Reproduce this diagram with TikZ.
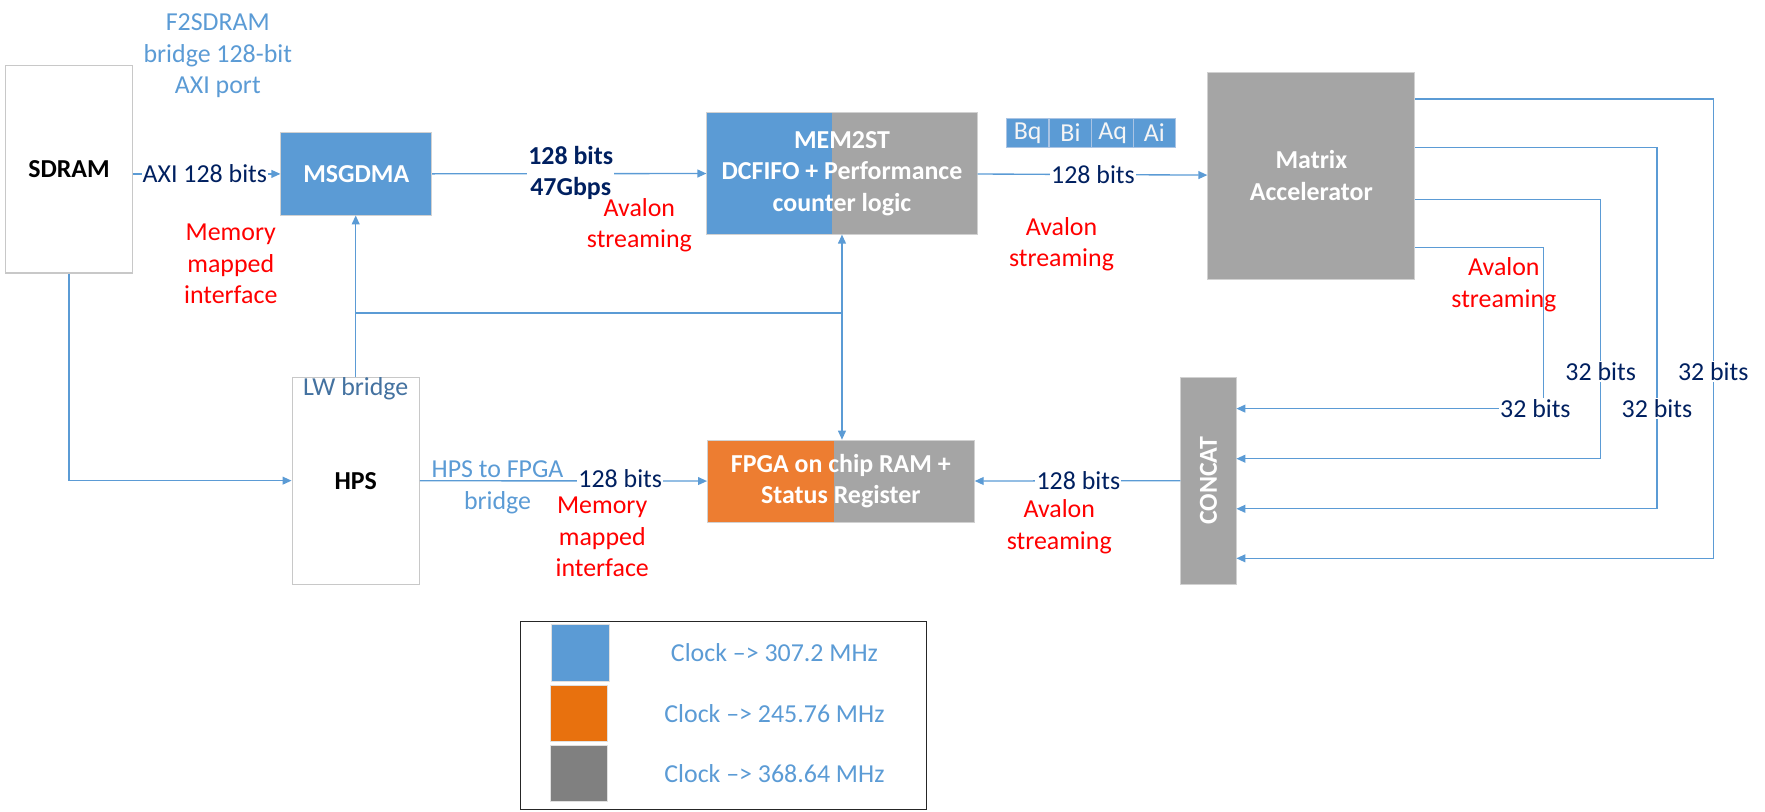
\documentclass[tikz,border=0pt]{standalone}
\usepackage{fontspec}
\setmainfont{Carlito}
\usetikzlibrary{arrows.meta}
\definecolor{cBlue}{RGB}{91,155,213}
\definecolor{cGray}{RGB}{165,165,165}
\definecolor{cOrange}{RGB}{237,125,49}
\definecolor{cNavy}{RGB}{0,32,96}
\definecolor{cRed}{RGB}{255,0,0}
\definecolor{cSteel}{RGB}{68,114,160}
\definecolor{cLegOrange}{RGB}{232,113,14}
\definecolor{cLegGray}{RGB}{128,128,128}
\definecolor{cLine}{RGB}{91,155,213}
\definecolor{cBorder}{RGB}{200,200,200}
\definecolor{cCellBorder}{RGB}{170,196,228}
\definecolor{cCellText}{RGB}{245,245,245}
\begin{document}
\begin{tikzpicture}[x=1pt,y=-1pt,
  every node/.style={font=\fontsize{23}{28}\selectfont, inner sep=0pt, align=center},
  conn/.style={draw=cLine, line width=1.2pt},
  arr/.style={conn, -{Triangle[length=8pt,width=7pt]}},
  plainbox/.style={draw=cBorder, line width=1pt, fill=white, minimum width=113pt, minimum height=184pt},
  colbox/.style={draw=black!18, line width=0.8pt, text=white, font=\fontsize{23}{28}\selectfont\bfseries},
  twotone/.style n args={3}{colbox, path picture={
     \fill[#1] (path picture bounding box.north west) rectangle ([xshift=#3]path picture bounding box.south west);
     \fill[#2] ([xshift=#3]path picture bounding box.north west) rectangle (path picture bounding box.south east);}},
  bitslbl/.style={text=cNavy, fill=white, inner sep=1pt},
  redlbl/.style={text=cRed},
  bluelbl/.style={text=cBlue},
  cell/.style={fill=cBlue, draw=cCellBorder, line width=0.8pt, text=cCellText, minimum width=37.5pt, minimum height=26pt},
  swatch/.style={minimum width=51pt, minimum height=50pt, draw=black!12, line width=0.8pt},
]
\useasboundingbox (0,0) rectangle (1568,720.5);

% ---- boxes ----
\node[plainbox] (sdram) at (61.3,150.5) {\bfseries SDRAM};
\node[colbox, fill=cBlue, minimum width=134pt, minimum height=73pt] (msgdma) at (316.5,154.5) {MSGDMA};
\node[twotone={cBlue}{cGray}{111.5pt}, minimum width=240pt, minimum height=108pt] (mem2st) at (748,154) {MEM2ST\\DCFIFO + Performance\\counter logic};
\node[cell] (bq) at (913,118) {Bq};
\node[cell] (bi) at (951,118) {Bi};
\node[cell] (aq) at (988.5,118) {Aq};
\node[cell] (ai) at (1025.5,118) {Ai};
\node[colbox, fill=cGray, minimum width=184pt, minimum height=184pt] (matrix) at (1165,156) {Matrix\\Accelerator};
\node[colbox, fill=cGray, minimum width=49pt, minimum height=184pt] (concat) at (1073.5,427) {\rotatebox{90}{CONCAT}};
\node[plainbox] (hps) at (316,427) {\bfseries HPS};
\node[twotone={cOrange}{cGray}{112.5pt}, minimum width=237pt, minimum height=73pt] (fpga) at (747,427.5) {FPGA on chip RAM +\\Status Register};

% ---- coordinates ----
\coordinate (v1) at (1522,88);
\coordinate (v2) at (1472,131);
\coordinate (v3) at (1422,177);
\coordinate (v4) at (1371,220);
\coordinate (in1) at (1371,363);
\coordinate (in2) at (1422,407.5);
\coordinate (in3) at (1472,452);
\coordinate (in4) at (1522,496);
\coordinate (j1) at (316,278);
\coordinate (j2) at (748,278);

% ---- connectors ----
\draw[arr] (sdram.east |- msgdma.west) -- (msgdma.west);
\draw[arr] (msgdma) -- (mem2st);
\draw[arr] (mem2st) -- (matrix);
\draw[arr] (matrix.east |- v4) -- (v4) -- (in1) -- (concat.east |- in1);
\draw[arr] (matrix.east |- v3) -- (v3) -- (in2) -- (concat.east |- in2);
\draw[arr] (matrix.east |- v2) -- (v2) -- (in3) -- (concat.east |- in3);
\draw[arr] (matrix.east |- v1) -- (v1) -- (in4) -- (concat.east |- in4);
\draw[arr] (concat) -- (fpga);
\draw[arr] (sdram.south) |- (hps.west);
\draw[arr] (hps) -- (fpga);
\draw[arr] (hps.north) -- (hps.north |- msgdma.south);
\draw[conn] (j1) -- (j2);
\draw[arr] (j2) -- (j2 |- mem2st.south);
\draw[arr] (j2) -- (j2 |- fpga.north);

% ---- labels ----
\node[bluelbl] (f2s) at (193.5,49.5) {F2SDRAM\\bridge 128-bit\\AXI port};
\node[bitslbl] (axi) at (182,154.5) {AXI 128 bits};
\node[redlbl] (mmi1) at (205,234.5) {Memory\\mapped\\interface};
\node[bitslbl, font=\fontsize{23}{28}\selectfont\bfseries] (bw) at (507,153.5) {128 bits\\47Gbps};
\node[redlbl] (av1) at (568,200) {Avalon\\streaming};
\node[bitslbl] (b128a) at (971,155.5) {128 bits};
\node[redlbl] (av2) at (943,217) {Avalon\\streaming};
\node[redlbl] (av3) at (1336,253) {Avalon\\streaming};
\node[bitslbl] (b32a) at (1364,363) {32 bits};
\node[bitslbl] (b32b) at (1422,330) {32 bits};
\node[bitslbl] (b32c) at (1472,363) {32 bits};
\node[bitslbl] (b32d) at (1522,330) {32 bits};
\node[text=cSteel] (lw) at (316,345) {LW bridge};
\node[bluelbl] (h2f) at (442,433) {HPS to FPGA\\bridge};
\node[bitslbl] (b128b) at (551,425) {128 bits};
\node[redlbl] (mmi2) at (535,477) {Memory\\mapped\\interface};
\node[bitslbl] (b128c) at (958,427) {128 bits};
\node[redlbl] (av4) at (941,468) {Avalon\\streaming};

% ---- legend ----
\node[draw=black!85, line width=0.8pt, minimum width=361pt, minimum height=167pt] (legend) at (642.5,635.5) {};
\node[swatch, fill=cBlue] (sw1) at (515.5,580) {};
\node[swatch, fill=cLegOrange] (sw2) at (514.5,634) {};
\node[swatch, fill=cLegGray] (sw3) at (514.5,687) {};
\node[bluelbl] (lg1) at (688,580) {Clock –> 307.2 MHz};
\node[bluelbl] (lg2) at (688,634) {Clock –> 245.76 MHz};
\node[bluelbl] (lg3) at (688,687) {Clock –> 368.64 MHz};
\end{tikzpicture}
\end{document}
